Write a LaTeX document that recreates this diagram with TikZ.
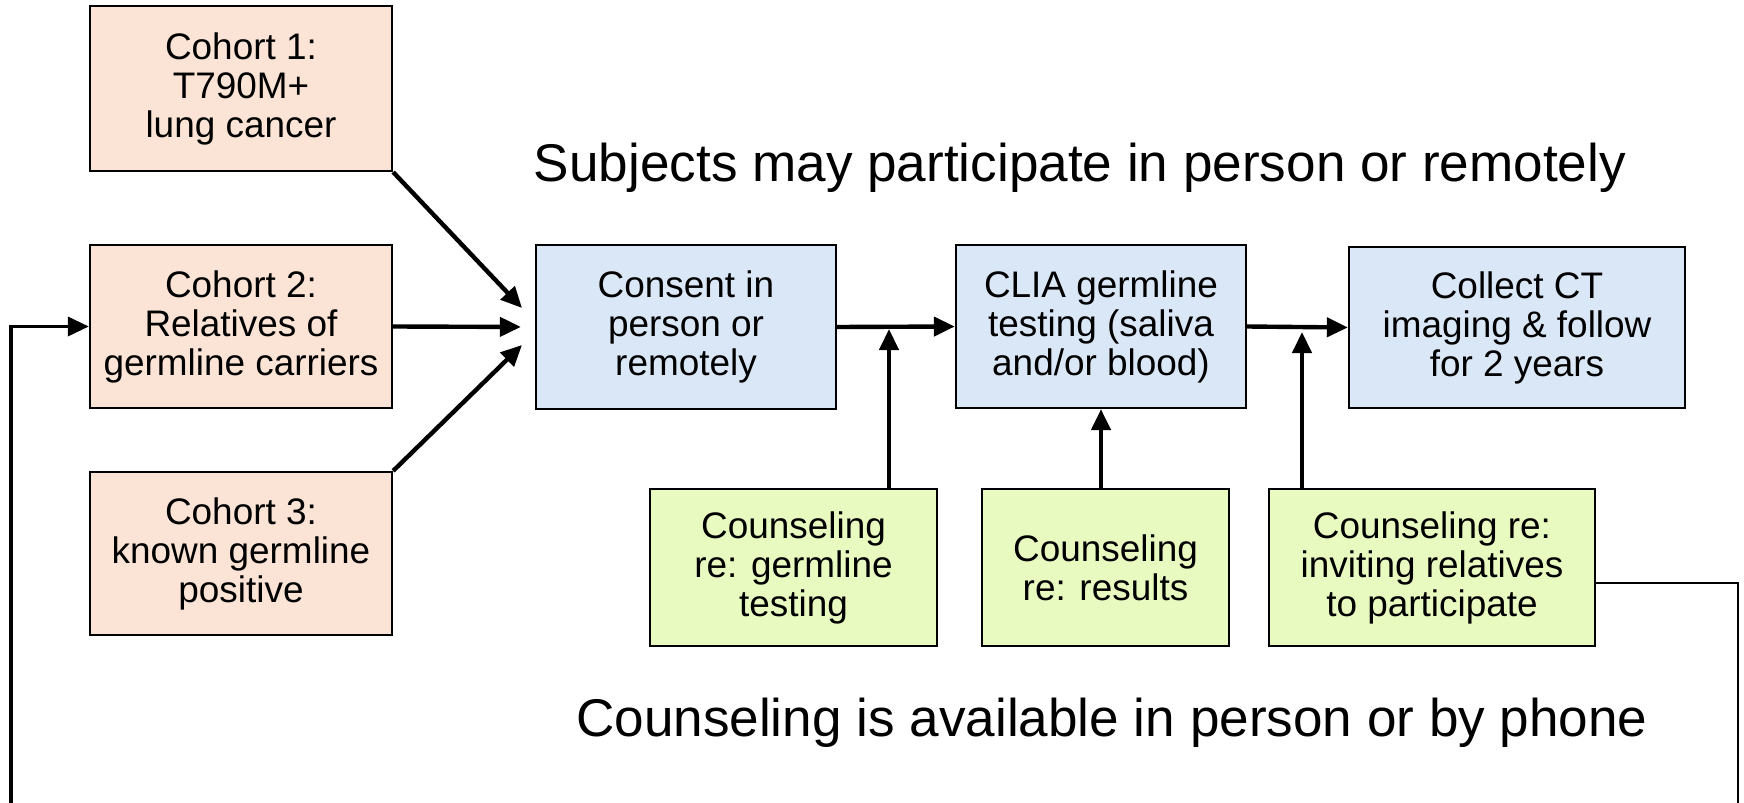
\documentclass[tikz,border=0pt]{standalone}
\usepackage{fontspec}
\setmainfont{Liberation Sans}
\usepackage{tikz}
\usetikzlibrary{positioning, arrows.meta}
\definecolor{cohortfill}{HTML}{FBE4D5}
\definecolor{stepfill}{HTML}{DAE7F6}
\definecolor{counselfill}{HTML}{E9FAC1}
\tikzset{
  box/.style={draw=black, line width=0.6pt, fill=#1, align=center, inner sep=2pt,
              font=\fontsize{10.5}{11.1}\selectfont},
  flow/.style={-{Triangle[length=0.21cm, width=0.19cm]}, line width=1.25pt},
  back/.style={line width=0.6pt},
  note/.style={font=\fontsize{15.1}{18}\selectfont, anchor=base, inner sep=0pt}
}

\begin{document}
\begin{tikzpicture}[x=0.01cm, y=-0.01cm]
  \useasboundingbox (0,0) rectangle (1744,803);
  % cohorts
  \node[box=cohortfill, minimum width=3.02cm, minimum height=1.65cm] (c1) at (241,88.5) {Cohort 1:\\T790M+\\lung cancer};
  \node[box=cohortfill, minimum width=3.02cm, minimum height=1.63cm] (c2) at (241,326.5) {Cohort 2:\\Relatives of\\germline carriers};
  \node[box=cohortfill, minimum width=3.02cm, minimum height=1.63cm] (c3) at (241,553.5) {Cohort 3:\\known germline\\positive};
  % study steps
  \node[box=stepfill, minimum width=3.0cm, minimum height=1.64cm] (cons) at (686,327) {Consent in\\person or\\remotely};
  \node[box=stepfill, minimum width=2.9cm, minimum height=1.63cm] (clia) at (1101,326.5) {CLIA germline\\testing (saliva\\and/or blood)};
  \node[box=stepfill, minimum width=3.36cm, minimum height=1.61cm] (ct) at (1517,327.5) {Collect CT\\imaging \& follow\\for 2 years};
  % counseling
  \node[box=counselfill, minimum width=2.87cm, minimum height=1.57cm] (g1) at (793.5,567.5) {Counseling\\re: germline\\testing};
  \node[box=counselfill, minimum width=2.47cm, minimum height=1.57cm] (g2) at (1105.5,567.5) {Counseling\\re: results};
  \node[box=counselfill, minimum width=3.26cm, minimum height=1.57cm] (g3) at (1432,567.5) {Counseling re:\\inviting relatives\\to participate};
  % headings
  \node[note] (top) at (1080,181) {Subjects may participate in person or remotely};
  \node[note] (bot) at (1112,736) {Counseling is available in person or by phone};
  % joints
  \coordinate (in1) at (522,308);
  \coordinate (in3) at (522,345);
  \coordinate (j1) at (889,329);
  \coordinate (j3) at (1302,332);
  \coordinate (r1) at (1738,583);
  \coordinate (br) at (1738,803);
  \coordinate (bl) at (11,803);
  \draw[flow] (c1.south east) -- (in1);
  \draw[flow, shorten >=0.14cm] (c2.east) -- (cons.west);
  \draw[flow] (c3.north east) -- (in3);
  \draw[flow] (cons.east) -- (clia.west);
  \draw[flow] (clia.east) -- (ct.west);
  \draw[flow] (g1.north -| j1) -- (j1);
  \draw[flow] (g2.north -| clia.south) -- (clia.south);
  \draw[flow] (g3.north -| j3) -- (j3);
  % back to cohort 2
  \draw[back] (g3.east |- r1) -- (r1) -- (br);
  \draw[flow, line width=1.0pt] (bl) |- (c2.west);
\end{tikzpicture}
\end{document}
